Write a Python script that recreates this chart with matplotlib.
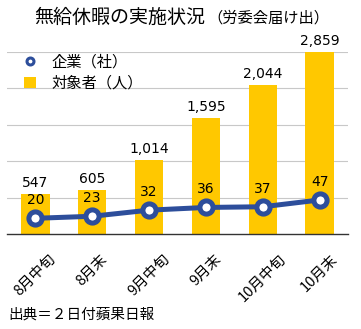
import matplotlib.pyplot as plt
from matplotlib.lines import Line2D
from matplotlib.patches import Patch

plt.rcParams['font.family'] = ['Noto Sans CJK JP', 'DejaVu Sans']

# 時期ごとの無給休暇の届け出
periods = ['8月中旬', '8月末', '9月中旬', '9月末', '10月中旬', '10月末']
workers = [547, 605, 1014, 1595, 2044, 2859]   # 対象者（人）
companies = [20, 23, 32, 36, 37, 47]          # 企業（社）

bar_color = '#FFC800'
line_color = '#2D4E9B'
num_font = 'DejaVu Sans'

fig = plt.figure(figsize=(3.61, 3.29), dpi=100)
ax = fig.add_axes([0.019, 0.289, 0.945, 0.553])
x = range(len(periods))

ax.bar(x, workers, width=0.5, color=bar_color, zorder=2)
ax.set_ylim(0, 2500)
ax.set_xlim(-0.5, len(periods) - 0.5)
ax.set_yticks([500, 1000, 1500, 2000, 2500])
ax.yaxis.grid(True, color='#C8C8C8', linewidth=0.8, zorder=0)
ax.set_yticklabels([])
ax.tick_params(axis='y', length=0)
ax.tick_params(axis='x', length=0, pad=13)
for side in ['top', 'right', 'left']:
    ax.spines[side].set_visible(False)
ax.spines['bottom'].set_color('#333333')
ax.spines['bottom'].set_linewidth(1.0)
ax.set_xticks(list(x))
ax.set_xticklabels(periods, rotation=45, ha='center', fontsize=10.5)

for i, v in enumerate(workers):
    ax.annotate(f'{v:,}', (i, min(v, 2500)), xytext=(0, 3), textcoords='offset points',
                ha='center', va='bottom', fontsize=10, family=num_font, clip_on=False)

ax2 = ax.twinx()
ax2.set_ylim(-3, 265)
ax2.axis('off')
ax2.plot(x, companies, color=line_color, linewidth=3.6, marker='o', markersize=9.5,
         markerfacecolor='white', markeredgecolor=line_color, markeredgewidth=3.6, zorder=3)
for i, v in enumerate(companies):
    ax2.annotate(str(v), (i, v), xytext=(0, 8), textcoords='offset points',
                 ha='center', va='bottom', fontsize=10, family=num_font)

handles = [Line2D([], [], color=line_color, marker='o', linestyle='none', markersize=5,
                  markerfacecolor='white', markeredgewidth=2.2),
           Patch(facecolor=bar_color, edgecolor='none')]
fig.legend(handles, ['企業（社）', '対象者（人）'], loc='upper left',
           bbox_to_anchor=(0.028, 0.88), frameon=False, fontsize=11,
           handlelength=0.8, handleheight=0.8, handletextpad=1.0, labelspacing=0.3)

fig.text(0.568, 0.948, '無給休暇の実施状況', fontsize=13.7, ha='right', va='center')
fig.text(0.574, 0.946, '（労委会届け出）', fontsize=11, ha='left', va='center')
fig.text(0.022, 0.043, '出典＝２日付蘋果日報', fontsize=10.5, ha='left', va='center')

fig.savefig('out.png', dpi=100)
